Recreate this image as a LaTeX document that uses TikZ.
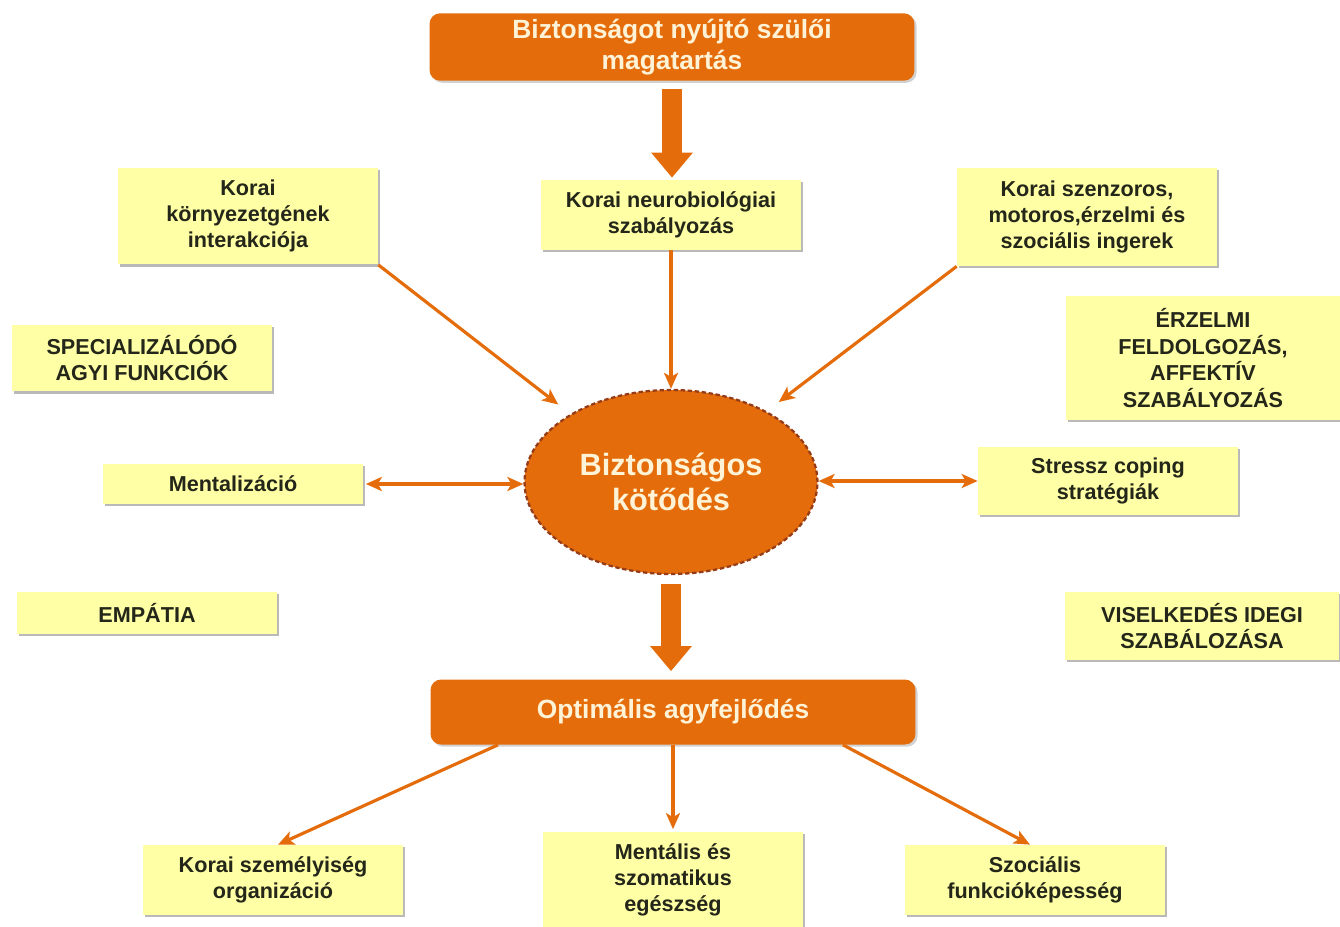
\documentclass[tikz,border=0pt]{standalone}
\usepackage{fontspec}
\setmainfont{Liberation Sans}
\usepackage{tikz}
\usetikzlibrary{
  arrows.meta,
  positioning,
  shapes.geometric,
  shadows
}
\definecolor{mainorange}{RGB}{228,108,10}
\definecolor{rimbrown}{RGB}{150,60,25}
\definecolor{noteyellow}{RGB}{255,255,165}
\definecolor{cream}{RGB}{255,243,215}
\definecolor{inkdark}{RGB}{35,38,25}
\tikzset{
  notebox/.style={
    fill=noteyellow,
    draw=none,
    align=center,
    minimum width=5.2cm,
    inner sep=3pt,
    text=inkdark,
    font=\bfseries\fontsize{12.3}{15}\selectfont,
    drop shadow={shadow xshift=1.4pt,shadow yshift=-1.4pt,fill=black!50,opacity=.55}
  },
  titlebox/.style={
    fill=mainorange,
    draw=none,
    rounded corners=6pt,
    align=center,
    minimum width=9.7cm,
    minimum height=1.3cm,
    text=cream,
    font=\bfseries\fontsize{15}{17.5}\selectfont,
    drop shadow={shadow xshift=1.2pt,shadow yshift=-1.2pt,fill=black!40,opacity=.45}
  },
  corebox/.style={
    ellipse,
    fill=mainorange,
    draw=rimbrown,
    line width=1.3pt,
    dash pattern=on 2.5pt off 1.5pt,
    align=center,
    minimum width=5.86cm,
    minimum height=3.68cm,
    text=cream,
    font=\bfseries\fontsize{17.5}{20}\selectfont
  },
  thinarrow/.style={-{Stealth[length=0.32cm,width=0.28cm,inset=0.08cm]},line width=1.8pt,draw=mainorange},
  twoarrow/.style={{Stealth[length=0.32cm,width=0.28cm,inset=0.08cm]}-{Stealth[length=0.32cm,width=0.28cm,inset=0.08cm]},line width=1.8pt,draw=mainorange},
  fatarrow/.style={-{Triangle[length=0.5cm,width=0.8cm]},line width=0.4cm,draw=mainorange}
}
\begin{document}
\begin{tikzpicture}[x=0.02cm,y=-0.02cm]
  \useasboundingbox (0,0) rectangle (1340,927);

  % orange title boxes and centre
  \node[titlebox] (parent) at (672,47) {Biztonságot nyújtó szülői\\magatartás};
  \node[corebox] (secure) at (671,482) {Biztonságos\\kötődés};
  \node[titlebox] (brain) at (673,712) {Optimális agyfejlődés};

  % upper row
  \node[notebox,minimum height=1.4cm] (neuro) at (671,215) {Korai neurobiológiai\\szabályozás};
  \node[notebox,minimum height=1.94cm] (gene) at (248,216) {Korai\\környezetgének\\interakciója};
  \node[notebox,minimum height=1.96cm] (sensory) at (1087,217) {Korai szenzoros,\\motoros,érzelmi és\\szociális ingerek};

  % side notes
  \node[notebox,minimum height=1.34cm] (special) at (142,358) {SPECIALIZÁLÓDÓ\\AGYI FUNKCIÓK};
  \node[notebox,minimum width=5.5cm,minimum height=2.48cm] (emotion) at (1203,358) {ÉRZELMI\\FELDOLGOZÁS,\\AFFEKTÍV\\SZABÁLYOZÁS};
  \node[notebox,minimum height=0.8cm] (mental) at (233,484) {Mentalizáció};
  \node[notebox,minimum height=1.36cm] (stress) at (1108,481) {Stressz coping\\stratégiák};
  \node[notebox,minimum height=0.84cm] (empathy) at (147,613) {EMPÁTIA};
  \node[notebox,minimum width=5.5cm,minimum height=1.36cm] (behave) at (1202,626) {VISELKEDÉS IDEGI\\SZABÁLOZÁSA};

  % outcomes
  \node[notebox,minimum height=1.4cm] (person) at (273,880) {Korai személyiség\\organizáció};
  \node[notebox,minimum height=1.92cm] (health) at (673,880) {Mentális és\\szomatikus\\egészség};
  \node[notebox,minimum height=1.4cm] (social) at (1035,880) {Szociális\\funkcióképesség};

  % connectors
  \draw[fatarrow] ([yshift=-0.16cm]parent.south) -- ([yshift=0.04cm]parent.south |- neuro.north);
  \draw[fatarrow] ([yshift=-0.18cm]secure.south) -- ([yshift=0.16cm]secure.south |- brain.north);

  \draw[thinarrow] (neuro.south) -- (secure.north);
  \draw[thinarrow] (gene.south east) -- ([xshift=-0.4cm,yshift=0.1cm]secure.142);
  \draw[thinarrow] (sensory.south west) -- ([xshift=0.3cm,yshift=0.15cm]secure.38);
  \draw[twoarrow] ([xshift=0.05cm]mental.east) -- (secure.west |- mental.east);
  \draw[twoarrow] (secure.east |- stress.west) -- (stress.west);

  \draw[thinarrow] ([xshift=-3.5cm]brain.south) -- ([xshift=0.1cm]person.north);
  \draw[thinarrow] (brain.south) -- ([yshift=0.05cm]brain.south |- health.north);
  \draw[thinarrow] ([xshift=3.4cm]brain.south) -- ([xshift=-0.1cm]social.north);
\end{tikzpicture}
\end{document}
